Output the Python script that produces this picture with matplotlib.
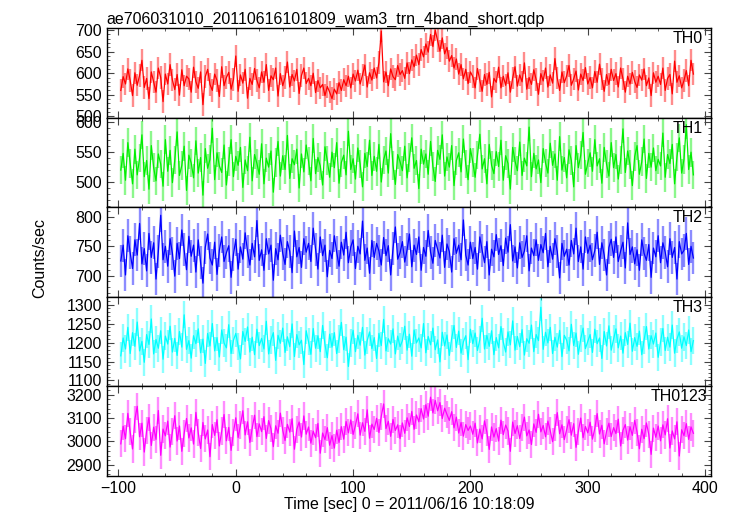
import numpy as np
import matplotlib
matplotlib.use('Agg')
import matplotlib.pyplot as plt
from matplotlib.ticker import MultipleLocator

plt.rcParams['font.family'] = ['Liberation Sans', 'DejaVu Sans']

###################################################
title = 'ae706031010_20110616101809_wam3_trn_4band_short.qdp'
xlabel = 'Time [sec] 0 = 2011/06/16 10:18:09'
ylabel = 'Counts/sec'
t_start = -98
t_step = 2
##################################################

th0 = [560, 592, 575, 610, 583, 548, 601, 572, 595, 630,
       567, 588, 541, 603, 579, 556, 612, 590, 534, 598,
       575, 620, 584, 562, 597, 549, 608, 571, 593, 587,
       556, 614, 580, 565, 603, 527, 592, 609, 574, 560,
       598, 583, 546, 615, 571, 590, 602, 563, 585, 640,
       558, 596, 577, 609, 542, 588, 574, 611, 583, 566,
       603, 579, 620, 560, 594, 585, 612, 547, 599, 571,
       590, 626, 568, 597, 582, 609, 553, 595, 612, 576,
       588, 571, 600, 555, 583, 566, 574, 548, 569, 556,
       541, 563, 552, 578, 560, 585, 571, 593, 566, 598,
       582, 607, 575, 596, 619, 568, 601, 584, 612, 589,
       625, 698, 580, 603, 571, 610, 592, 585, 618, 597,
       606, 588, 624, 599, 631, 615, 642, 620, 655, 638,
       668, 649, 690, 662, 700, 676, 651, 682, 645, 660,
       628, 641, 612, 633, 598, 620, 587, 609, 576, 603,
       592, 566, 611, 583, 558, 597, 574, 602, 545, 588,
       579, 614, 566, 593, 572, 601, 556, 589, 615, 570,
       596, 580, 624, 563, 590, 574, 608, 585, 551, 599,
       582, 612, 568, 596, 577, 634, 589, 560, 603, 578,
       594, 618, 572, 587, 605, 561, 598, 583, 613, 575,
       590, 566, 604, 579, 621, 586, 558, 597, 574, 609,
       583, 599, 568, 612, 587, 556, 593, 575, 602, 581,
       567, 596, 584, 610, 571, 589, 548, 601, 579, 593,
       574, 612, 560, 588, 597, 552, 628, 579, 594, 566,
       583, 606, 571, 630, 598]

th1 = [520, 548, 503, 566, 531, 497, 555, 512, 540, 579,
       509, 536, 488, 561, 524, 502, 547, 530, 493, 571,
       518, 553, 499, 537, 584, 511, 528, 560, 486, 545,
       532, 507, 569, 515, 541, 478, 556, 523, 538, 590,
       504, 549, 527, 516, 562, 495, 534, 571, 509, 543,
       528, 558, 491, 537, 519, 575, 502, 546, 531, 513,
       564, 497, 540, 525, 552, 483, 533, 568, 510, 544,
       521, 578, 506, 539, 529, 555, 490, 547, 517, 562,
       535, 502, 573, 514, 541, 527, 495, 559, 536, 508,
       550, 524, 566, 498, 533, 545, 512, 585, 521, 539,
       505, 557, 530, 492, 548, 526, 570, 511, 543, 518,
       563, 500, 537, 552, 515, 581, 528, 496, 546, 534,
       519, 560, 507, 541, 574, 523, 536, 489, 555, 530,
       547, 513, 568, 526, 501, 553, 538, 579, 510, 542,
       525, 561, 494, 536, 549, 517, 572, 530, 504, 556,
       533, 508, 545, 580, 522, 539, 497, 563, 528, 514,
       551, 526, 570, 503, 544, 531, 488, 558, 535, 519,
       567, 511, 540, 527, 592, 509, 548, 522, 537, 499,
       556, 532, 515, 565, 528, 547, 503, 576, 520, 541,
       507, 554, 536, 492, 561, 524, 545, 583, 513, 532,
       549, 518, 571, 527, 539, 498, 558, 530, 510, 566,
       524, 546, 505, 537, 589, 516, 552, 529, 494, 543,
       561, 513, 534, 572, 506, 548, 525, 557, 519, 538,
       527, 582, 508, 546, 531, 563, 497, 542, 574, 515,
       538, 596, 521, 550, 512]

th2 = [725, 752, 701, 768, 739, 712, 761, 735, 789, 720,
       746, 708, 772, 731, 756, 694, 741, 803, 727, 750,
       716, 763, 738, 699, 755, 729, 778, 744, 710, 767,
       733, 752, 706, 761, 722, 687, 748, 771, 730, 718,
       757, 702, 743, 766, 724, 739, 751, 697, 736, 762,
       711, 749, 728, 773, 741, 718, 755, 732, 794, 726,
       744, 709, 763, 737, 752, 692, 746, 727, 769, 738,
       719, 758, 741, 705, 776, 732, 748, 714, 763, 740,
       755, 724, 781, 745, 711, 766, 734, 752, 698, 743,
       729, 768, 740, 716, 757, 735, 774, 722, 749, 761,
       712, 750, 737, 793, 726, 747, 704, 760, 731, 755,
       742, 718, 765, 734, 751, 701, 746, 783, 728, 739,
       758, 723, 744, 771, 715, 752, 736, 766, 709, 748,
       733, 777, 740, 721, 760, 745, 730, 769, 714, 754,
       741, 706, 763, 738, 752, 727, 795, 735, 718, 757,
       729, 748, 711, 766, 743, 722, 758, 701, 745, 732,
       770, 736, 751, 717, 764, 740, 787, 725, 749, 713,
       756, 731, 742, 768, 708, 747, 734, 761, 726, 753,
       739, 772, 715, 750, 728, 763, 741, 696, 755, 733,
       745, 718, 760, 737, 781, 724, 749, 711, 766, 738,
       752, 727, 743, 774, 719, 756, 735, 701, 748, 762,
       731, 766, 724, 742, 757, 713, 790, 736, 749, 720,
       744, 709, 761, 738, 726, 753, 697, 747, 732, 768,
       722, 756, 740, 715, 763, 731, 748, 694, 758, 737,
       743, 772, 719, 750, 730]

th3 = [1165, 1212, 1183, 1240, 1171, 1226, 1190, 1254, 1178, 1203,
       1148, 1221, 1195, 1262, 1170, 1208, 1185, 1231, 1156, 1217,
       1196, 1243, 1175, 1211, 1166, 1229, 1188, 1273, 1182, 1205,
       1159, 1218, 1197, 1236, 1173, 1209, 1145, 1224, 1191, 1250,
       1178, 1213, 1162, 1233, 1199, 1186, 1247, 1171, 1206, 1224,
       1190, 1157, 1229, 1203, 1241, 1175, 1214, 1168, 1235, 1192,
       1211, 1183, 1256, 1170, 1207, 1226, 1153, 1219, 1198, 1238,
       1174, 1215, 1189, 1249, 1163, 1221, 1194, 1206, 1142, 1231,
       1202, 1169, 1237, 1185, 1218, 1176, 1245, 1195, 1160, 1222,
       1188, 1226, 1171, 1209, 1253, 1181, 1214, 1137, 1199, 1232,
       1176, 1219, 1193, 1240, 1167, 1205, 1228, 1184, 1213, 1158,
       1224, 1192, 1261, 1178, 1210, 1196, 1236, 1170, 1217, 1189,
       1205, 1243, 1180, 1222, 1164, 1233, 1199, 1212, 1186, 1250,
       1173, 1216, 1194, 1238, 1181, 1207, 1149, 1227, 1191, 1220,
       1166, 1211, 1245, 1187, 1230, 1172, 1202, 1218, 1155, 1235,
       1197, 1225, 1179, 1208, 1264, 1183, 1219, 1190, 1231, 1168,
       1213, 1186, 1242, 1201, 1175, 1228, 1194, 1257, 1180, 1216,
       1189, 1234, 1167, 1210, 1198, 1246, 1176, 1221, 1205, 1293,
       1182, 1227, 1199, 1240, 1171, 1214, 1188, 1232, 1163, 1219,
       1206, 1178, 1248, 1192, 1225, 1169, 1210, 1238, 1184, 1203,
       1221, 1174, 1235, 1197, 1212, 1158, 1229, 1191, 1244, 1180,
       1209, 1236, 1186, 1217, 1172, 1226, 1195, 1251, 1177, 1213,
       1190, 1230, 1168, 1207, 1242, 1183, 1218, 1196, 1225, 1161,
       1201, 1237, 1179, 1214, 1188, 1246, 1172, 1209, 1228, 1185,
       1215, 1192, 1233, 1176, 1205]

th0123 = [2990, 3065, 3012, 3120, 3041, 2968, 3095, 3150, 3020, 3078,
          2955, 3046, 3102, 2983, 3061, 3009, 3132, 2941, 3053, 3024,
          3087, 2976, 3041, 3110, 3002, 3066, 2958, 3033, 3098, 3015,
          3058, 2989, 3124, 3037, 2970, 3081, 3011, 3049, 2935, 3072,
          3026, 3093, 2981, 3045, 3115, 3003, 3060, 2962, 3038, 3101,
          3017, 3070, 3131, 3028, 3084, 2996, 3057, 3112, 3021, 3075,
          3042, 3106, 3013, 3089, 3054, 2978, 3067, 3035, 3121, 3048,
          3004, 3073, 3040, 3097, 2967, 3052, 3083, 3019, 3109, 3031,
          3062, 2993, 3044, 3016, 3077, 2950, 3036, 3008, 3059, 2984,
          3025, 2972, 3048, 2996, 3063, 3010, 3085, 3037, 3092, 3030,
          3069, 3118, 3027, 3080, 3043, 3135, 3014, 3074, 3051, 3099,
          3038, 3107, 3160, 3055, 3086, 3022, 3094, 3047, 3071, 3012,
          3079, 3035, 3101, 3064, 3128, 3052, 3113, 3084, 3140, 3096,
          3157, 3108, 3189, 3122, 3175, 3131, 3166, 3098, 3142, 3115,
          3090, 3127, 3058, 3104, 3036, 3081, 3023, 3072, 3047, 3066,
          3031, 3078, 2994, 3053, 3011, 3088, 3040, 2966, 3062, 3019,
          3055, 3002, 3091, 3029, 3070, 3045, 2958, 3083, 3034, 3067,
          3013, 3061, 3104, 3024, 3049, 2987, 3075, 3039, 3116, 3041,
          3068, 3020, 3087, 3046, 2999, 3058, 3123, 3033, 3071, 3008,
          3050, 3093, 3027, 3076, 2975, 3044, 3100, 3016, 3064, 3037,
          3082, 3010, 3056, 3119, 3032, 3069, 2990, 3043, 3078, 3021,
          3059, 3034, 3095, 2981, 3048, 3072, 3006, 3063, 3026, 3090,
          3040, 2969, 3052, 3012, 3079, 3030, 2945, 3057, 3018, 3066,
          3003, 3071, 3028, 3097, 2972, 3045, 3011, 3084, 2938, 3050,
          3025, 3076, 3009, 3062, 3035]

series = [th0, th1, th2, th3, th0123]
names = ['TH0', 'TH1', 'TH2', 'TH3', 'TH0123']
errors = [26, 24, 28, 36, 58]
renk = ['#ff0000', '#00ee00', '#0000ff', '#00ffff', '#ff00ff']
ylims = [(497, 705), (458, 608), (664, 817), (1085, 1321), (2854, 3236)]
ymajor = [50, 50, 50, 50, 100]
yminor = [10, 10, 10, 10, 20]
label_x = [398, 398, 398, 398, 402]

fig, ax = plt.subplots(5, 1, figsize=(7.31, 5.16), dpi=100, sharex=True)
fig.subplots_adjust(left=0.146, right=0.9726, top=0.9457, bottom=0.0781, hspace=0)

for i in range(len(series)):
    y = np.array(series[i], dtype=float)
    t = t_start + t_step * np.arange(len(y))
    ax[i].errorbar(t, y, yerr=errors[i], fmt='none', ecolor=renk[i], alpha=0.45, elinewidth=1.7)
    ax[i].plot(t, y, color=renk[i], lw=0.9)
    ax[i].set_ylim(ylims[i])
    ax[i].set_xlim(-110, 405)
    ax[i].yaxis.set_major_locator(MultipleLocator(ymajor[i]))
    ax[i].yaxis.set_minor_locator(MultipleLocator(yminor[i]))
    ax[i].xaxis.set_major_locator(MultipleLocator(100))
    ax[i].xaxis.set_minor_locator(MultipleLocator(20))
    ax[i].tick_params(which='both', direction='in', top=True, right=True, labelsize=11.5, color='#444444')
    ax[i].tick_params(which='major', length=5)
    ax[i].tick_params(which='minor', length=2.5)
    for s in ax[i].spines.values():
        s.set_linewidth(1.0)
    ax[i].text(label_x[i], 0.965, names[i], transform=ax[i].get_xaxis_transform(),
               ha='right', va='top', fontsize=11.5)

ax[0].set_title(title, loc='left', fontsize=11.5, pad=3)
ax[4].set_xlabel(xlabel, fontsize=11.5, labelpad=1)
fig.text(0.055, 0.5, ylabel, rotation=90, ha='center', va='center', fontsize=11.5)

plt.savefig('out.png', dpi=100)
